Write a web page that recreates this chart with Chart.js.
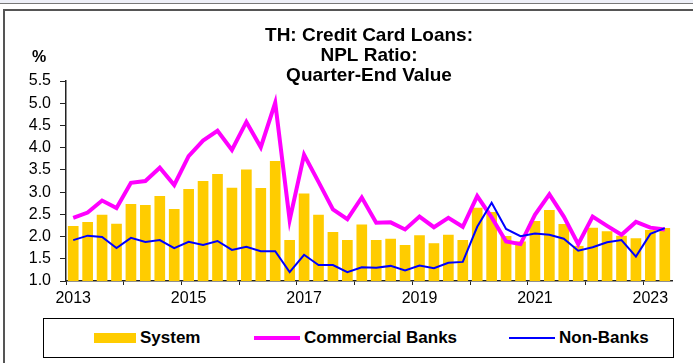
<!DOCTYPE html>
<html>
<head>
<meta charset="utf-8">
<script src="https://cdn.jsdelivr.net/npm/chart.js@4.4.1/dist/chart.umd.min.js"></script>
<style>
  body { margin: 0; background: #fff; font-family: "Liberation Sans", Arial, sans-serif; }
  #wrap { position: relative; width: 693px; height: 363px; overflow: hidden; }
  #strip { position: absolute; left: 0; top: 0; width: 693px; height: 3px; background: #eef0f8; border-bottom: 1px solid #777; }
  #frame { position: absolute; left: 3px; top: 9px; width: 720px; height: 400px; border-left: 2px solid #555; border-top: 2px solid #555; }
  #grafica { position: absolute; left: 0; top: 0; }
  #pct { position: absolute; left: 32px; top: 48px; font-size: 16px; font-weight: bold; }
  #leyenda { position: absolute; left: 43px; top: 318px; width: 629px; height: 38px; border: 1px solid #000;
             display: flex; align-items: center; font-weight: bold; font-size: 17px; }
  .item { position: absolute; display: flex; align-items: center; }
  .muestra { display: inline-block; width: 46px; margin-right: 4px; }
</style>
</head>
<body>
<div id="wrap">
  <div id="strip"></div>
  <div id="frame"></div>
  <canvas id="grafica" width="693" height="312"></canvas>
  <div id="pct">%</div>
  <div id="leyenda"></div>
</div>
<script>
// trimestres 2013Q1 - 2023Q2
const trimestres = [
  '2013Q1','2013Q2','2013Q3','2013Q4','2014Q1','2014Q2','2014Q3','2014Q4',
  '2015Q1','2015Q2','2015Q3','2015Q4','2016Q1','2016Q2','2016Q3','2016Q4',
  '2017Q1','2017Q2','2017Q3','2017Q4','2018Q1','2018Q2','2018Q3','2018Q4',
  '2019Q1','2019Q2','2019Q3','2019Q4','2020Q1','2020Q2','2020Q3','2020Q4',
  '2021Q1','2021Q2','2021Q3','2021Q4','2022Q1','2022Q2','2022Q3','2022Q4',
  '2023Q1','2023Q2'
];
const anios = ['2013', '2015', '2017', '2019', '2021', '2023'];

const sistema = [
  2.24, 2.33, 2.49, 2.29, 2.73, 2.71, 2.91, 2.62,
  3.07, 3.25, 3.41, 3.10, 3.51, 3.09, 3.70, 1.92,
  2.97, 2.49, 2.10, 1.92, 2.27, 1.92, 1.95, 1.81,
  2.03, 1.85, 2.04, 1.92, 2.65, 2.55, 2.01, 1.89,
  2.35, 2.60, 2.28, 1.79, 2.20, 2.12, 2.02, 1.96,
  2.15, 2.19
];
const bancos = [
  2.42, 2.54, 2.81, 2.64, 3.21, 3.25, 3.55, 3.16,
  3.81, 4.16, 4.38, 3.95, 4.58, 4.01, 5.01, 2.37,
  3.84, 3.23, 2.61, 2.39, 2.88, 2.31, 2.32, 2.16,
  2.45, 2.21, 2.42, 2.22, 2.91, 2.43, 1.89, 1.83,
  2.49, 2.95, 2.45, 1.83, 2.45, 2.24, 2.04, 2.33,
  2.20, 2.16
];
const noBancos = [
  1.92, 2.02, 1.99, 1.74, 1.97, 1.88, 1.92, 1.74,
  1.88, 1.81, 1.90, 1.70, 1.77, 1.67, 1.67, 1.20,
  1.59, 1.36, 1.36, 1.20, 1.31, 1.30, 1.34, 1.24,
  1.35, 1.29, 1.41, 1.43, 2.22, 2.76, 2.17, 2.01,
  2.07, 2.04, 1.95, 1.68, 1.76, 1.87, 1.92, 1.55,
  2.06, 2.19
];

// marcas del eje x solo en el cambio de anio
const marcaAnio = (c) => (c.index !== undefined && c.index % 4 === 0) ? '#222' : 'rgba(0,0,0,0)';

const ctx = document.getElementById('grafica').getContext('2d');
let myChart = new Chart(ctx, {
  type: 'bar',
  data: {
    labels: trimestres,
    datasets: [
      {
        label: 'System',
        data: sistema,
        backgroundColor: '#ffcc00',
        borderWidth: 0,
        barPercentage: 0.74,
        categoryPercentage: 1,
        order: 3
      },
      {
        type: 'line',
        label: 'Commercial Banks',
        data: bancos,
        borderColor: '#ff00ff',
        borderWidth: 4,
        pointRadius: 0,
        tension: 0,
        order: 2
      },
      {
        type: 'line',
        label: 'Non-Banks',
        data: noBancos,
        borderColor: '#0000ff',
        borderWidth: 2,
        pointRadius: 0,
        tension: 0,
        order: 1
      }
    ]
  },
  options: {
    responsive: false,
    animation: false,
    layout: { padding: { left: 0, right: 21, top: 0, bottom: 0 } },
    plugins: {
      legend: { display: false },
      tooltip: { enabled: false },
      title: {
        display: true,
        fullSize: false,
        text: ['TH: Credit Card Loans:', 'NPL Ratio:', 'Quarter-End Value'],
        color: '#000',
        font: { family: 'Liberation Sans', size: 19, weight: 'bold', lineHeight: '20px' },
        padding: { top: 26, bottom: -5 }
      }
    },
    scales: {
      x: {
        offset: true,
        grid: {
          offset: true,
          drawOnChartArea: false,
          drawTicks: true,
          tickLength: 4,
          color: marcaAnio,
          tickColor: marcaAnio
        },
        border: { color: '#222', width: 1.5 },
        ticks: {
          autoSkip: false,
          maxRotation: 0,
          padding: 4,
          color: '#000',
          font: { family: 'Liberation Sans', size: 16 },
          callback: function (v) {
            const t = this.getLabelForValue(v);
            const anio = t.slice(0, 4);
            return (t.endsWith('Q1') && anios.includes(anio)) ? anio : '';
          }
        },
        afterFit: (s) => { s.height = 31; }
      },
      y: {
        min: 1,
        max: 5.5,
        grid: {
          drawOnChartArea: false,
          drawTicks: true,
          tickLength: 6,
          color: '#222'
        },
        border: { color: '#222', width: 1.5 },
        ticks: {
          stepSize: 0.5,
          padding: 9,
          color: '#000',
          font: { family: 'Liberation Sans', size: 16 },
          callback: (v) => v.toFixed(1)
        },
        afterFit: (s) => { s.width = 66; }
      }
    }
  }
});

// leyenda armada desde los datasets
const posiciones = [50, 210, 465];
const leyenda = document.getElementById('leyenda');
myChart.data.datasets.forEach((ds, i) => {
  const item = document.createElement('span');
  item.className = 'item';
  item.style.left = posiciones[i] + 'px';
  const muestra = document.createElement('span');
  muestra.className = 'muestra';
  if (ds.type === 'line') {
    muestra.style.height = ds.borderWidth + 'px';
    muestra.style.background = ds.borderColor;
  } else {
    muestra.style.height = '10px';
    muestra.style.width = '42px';
    muestra.style.background = ds.backgroundColor;
  }
  item.appendChild(muestra);
  item.appendChild(document.createTextNode(ds.label));
  leyenda.appendChild(item);
});
</script>
</body>
</html>
